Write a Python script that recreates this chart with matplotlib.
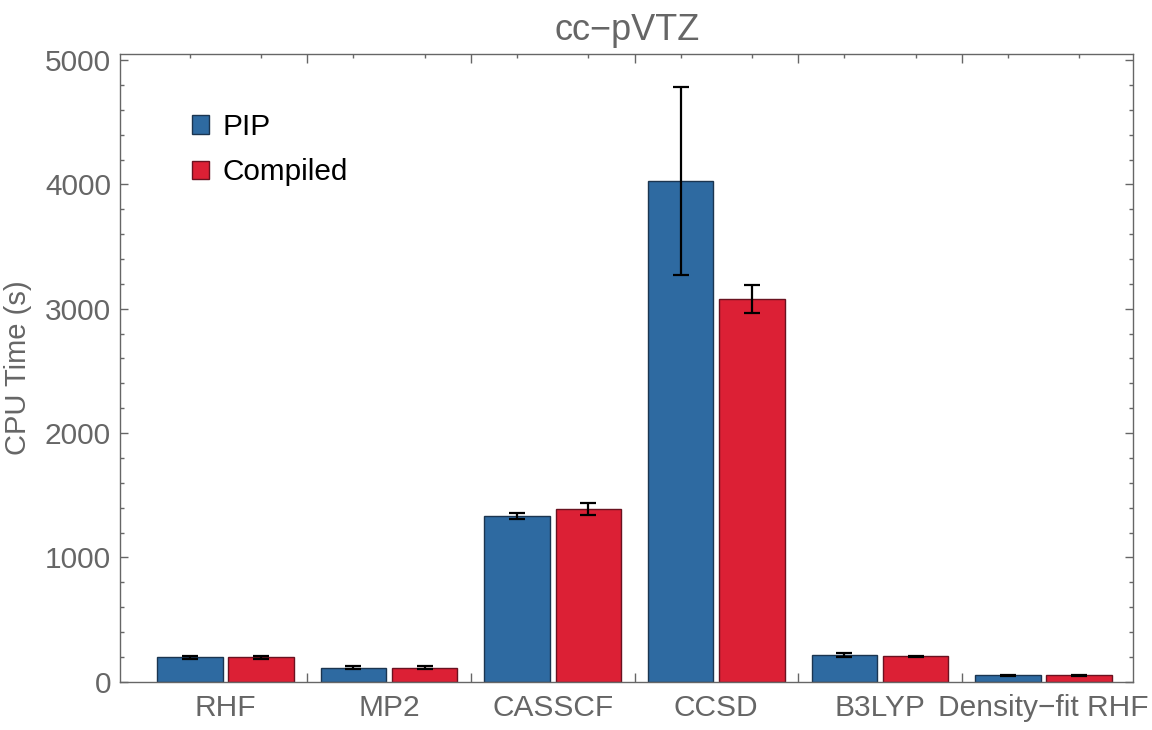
import matplotlib
matplotlib.use("Agg")
import matplotlib.pyplot as plt
import numpy as np

plt.rcParams['font.family'] = ['Liberation Sans', 'DejaVu Sans']

methods = ["RHF", "MP2", "CASSCF", "CCSD", "B3LYP", "Density\u2212fit RHF"]
pip_values = [195, 113, 1334, 4030, 212, 50]
pip_errors = [12, 10, 26, 757, 17, 6]
compiled_values = [195, 113, 1388, 3082, 204, 50]
compiled_errors = [10, 10, 49, 113, 5, 6]
series_labels = ["PIP", "Compiled"]
title = "cc\u2212pVTZ"
ylabel = "CPU Time (s)"

GRAY = "#666666"
BLUE = "#2E6AA1"
RED = "#DC2035"
BLUE_EDGE = "#1B3550"
RED_EDGE = "#6A1220"

fig = plt.figure(figsize=(11.52, 7.30), dpi=100)
ax = fig.add_axes([120/1152, 48.3/730, 1013.3/1152, 627.4/730])

x = np.arange(len(methods))
w = 0.40
off = 0.218
err_kw = dict(ecolor="black", elinewidth=1.6, capsize=5.5, capthick=1.6)
b1 = ax.bar(x - off, pip_values, w, color=BLUE, edgecolor=BLUE_EDGE, linewidth=1.0,
            label=series_labels[0], zorder=2)
b2 = ax.bar(x + off, compiled_values, w, color=RED, edgecolor=RED_EDGE, linewidth=1.0,
            label=series_labels[1], zorder=2)
ax.errorbar(x - off, pip_values, yerr=pip_errors, fmt="none", zorder=3, **err_kw)
ax.errorbar(x + off, compiled_values, yerr=compiled_errors, fmt="none", zorder=3, **err_kw)

ax.set_xlim(-0.645, len(methods) - 1 + 0.549)
ax.set_ylim(0, 5047)

# frame
for s in ax.spines.values():
    s.set_color(GRAY)
    s.set_linewidth(1.0)

# x ticks: separators (major) and bar centres (minor)
seps = x[:-1] + 0.5
centres = np.sort(np.concatenate([x - off, x + off]))
ax.set_xticks(seps)
ax.set_xticks(centres, minor=True)
ax.tick_params(axis="x", which="both", direction="in", top=True, bottom=True,
               labelbottom=False, color=GRAY, width=1.0)
ax.tick_params(axis="x", which="major", length=6.2)
ax.tick_params(axis="x", which="minor", length=3.2)

# y ticks
ax.set_yticks(np.arange(0, 5001, 1000))
ax.set_yticks(np.arange(0, 5001, 200), minor=True)
ax.tick_params(axis="y", which="both", direction="in", left=True, right=True,
               color=GRAY, width=1.0, labelcolor=GRAY, labelsize=21.5, pad=6.5)
ax.tick_params(axis="y", which="major", length=6.0)
ax.tick_params(axis="y", which="minor", length=3.0)

# category labels
sec = ax.secondary_xaxis("bottom")
sec.set_xticks(x)
sec.set_xticklabels(methods)
sec.tick_params(length=0, labelcolor=GRAY, labelsize=21.5, pad=8.5)
sec.spines["bottom"].set_visible(False)

ax.set_ylabel(ylabel, fontsize=21, color=GRAY, labelpad=9.5)
ax.set_title(title, fontsize=26, color=GRAY, pad=10)

leg = ax.legend(handles=[b1, b2], loc="upper left",
                bbox_to_anchor=((192 - 120) / 1013.3, (681.7 - 113) / 627.4),
                frameon=False, fontsize=21.4, handlelength=0.58, handleheight=0.58,
                handletextpad=0.45, labelspacing=0.58, borderpad=0, borderaxespad=0)
for t in leg.get_texts():
    t.set_color("black")

fig.savefig("out.png", dpi=100)
